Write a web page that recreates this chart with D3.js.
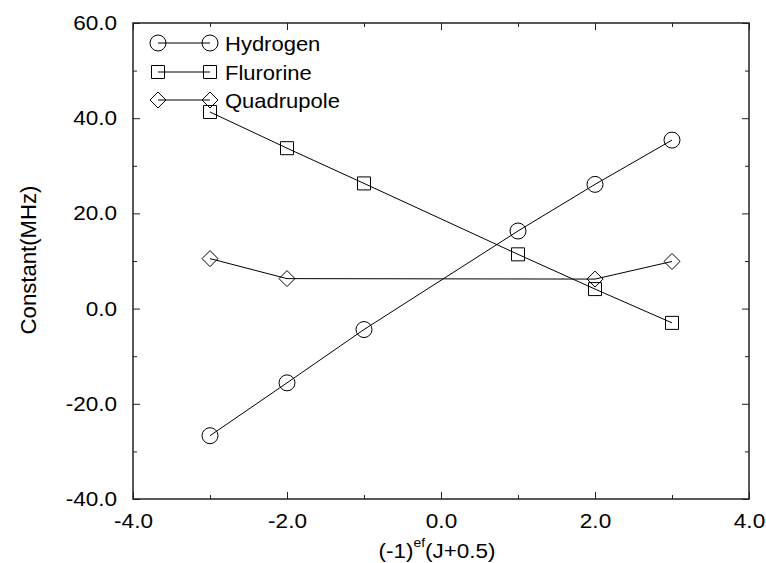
<!DOCTYPE html>
<html><head><meta charset="utf-8">
<script src="https://cdn.jsdelivr.net/npm/d3@7"></script>
<style>body{margin:0;background:#fff}svg{display:block}text{font-family:"Liberation Sans",Arial,sans-serif;fill:#000}</style>
</head><body><svg id="c" width="766" height="563"></svg>
<script>
const xValues = [-3, -2, -1, 1, 2, 3];
const hydrogen = [-26.7, -15.6, -4.4, 16.3, 26.1, 35.4];
const flurorine = [41.3, 33.7, 26.3, 11.4, 4.1, -3.0];
const quadX = [-3, -2, 2, 3];
const quadrupole = [10.5, 6.3, 6.2, 9.9];
const seriesNames = ["Hydrogen", "Flurorine", "Quadrupole"];
const xTicks = [-4, -2, 0, 2, 4];
const yTicks = [-40, -20, 0, 20, 40, 60];

const svg = d3.select("#c");
const L = 133, R = 749, T = 23, B = 499;
const x = d3.scaleLinear().domain([-4, 4]).range([L, R]);
const y = d3.scaleLinear().domain([-40, 60]).range([B, T]);
const SX = 1.1, TF = 20.5;

const g = svg.append("g");
g.append("rect").attr("x", L).attr("y", T).attr("width", R - L).attr("height", B - T)
  .attr("fill", "none").attr("stroke", "#222").attr("stroke-width", 1.5);

const fmt = d => d3.format(".1f")(d).replace("\u2212", "-");
const minorX = d3.range(-3, 4, 2);
const minorY = d3.range(-30, 60, 20);
function clean(sel) { sel.select(".domain").remove(); sel.selectAll("line").attr("stroke", "#222"); return sel; }

const ax = clean(g.append("g").attr("transform", `translate(0,${B})`)
  .call(d3.axisBottom(x).tickValues(xTicks).tickFormat(fmt).tickSize(-7).tickPadding(14)));
ax.selectAll("text").attr("font-size", TF).attr("font-family", null)
  .attr("transform", `scale(${SX},1)`).attr("y", 14);
clean(g.append("g").attr("transform", `translate(0,${B})`)
  .call(d3.axisBottom(x).tickValues(minorX).tickFormat("").tickSize(-4)));
clean(g.append("g").attr("transform", `translate(0,${T})`)
  .call(d3.axisTop(x).tickValues(xTicks).tickFormat("").tickSize(-7)));
clean(g.append("g").attr("transform", `translate(0,${T})`)
  .call(d3.axisTop(x).tickValues(minorX).tickFormat("").tickSize(-4)));
const ay = clean(g.append("g").attr("transform", `translate(${L},0)`)
  .call(d3.axisLeft(y).tickValues(yTicks).tickFormat(fmt).tickSize(-7).tickPadding(16)));
ay.selectAll("text").attr("font-size", TF).attr("font-family", null)
  .attr("transform", `scale(${SX},1)`).attr("x", -16 / SX);
clean(g.append("g").attr("transform", `translate(${L},0)`)
  .call(d3.axisLeft(y).tickValues(minorY).tickFormat("").tickSize(-4)));
clean(g.append("g").attr("transform", `translate(${R},0)`)
  .call(d3.axisRight(y).tickValues(yTicks).tickFormat("").tickSize(-7)));
clean(g.append("g").attr("transform", `translate(${R},0)`)
  .call(d3.axisRight(y).tickValues(minorY).tickFormat("").tickSize(-4)));

// titles
const xt = svg.append("text").attr("transform", `translate(${(L + R) / 2 - 4},558) scale(1.07,1)`)
  .attr("text-anchor", "middle").attr("font-size", 21);
xt.append("tspan").text("(-1)");
xt.append("tspan").text("ef").attr("font-size", 13).attr("dy", -11);
xt.append("tspan").text("(J+0.5)").attr("dy", 11);
svg.append("text").attr("transform", `translate(36,260) rotate(-90) scale(1.03,1)`)
  .attr("text-anchor", "middle").attr("font-size", 21.5).text("Constant(MHz)");

const line = d3.line().x(d => x(d[0])).y(d => y(d[1]));
const hData = xValues.map((v, i) => [v, hydrogen[i]]);
const fData = xValues.map((v, i) => [v, flurorine[i]]);
const qData = quadX.map((v, i) => [v, quadrupole[i]]);

const diamond = { draw(ctx, size) { const r = Math.sqrt(size / 2); ctx.moveTo(0, -r); ctx.lineTo(r, 0); ctx.lineTo(0, r); ctx.lineTo(-r, 0); ctx.closePath(); } };
const sym = [d3.symbolCircle, d3.symbolSquare, diamond];
const symSize = [201, 169, 128];
const datasets = [hData, fData, qData];

datasets.forEach((data, k) => {
  g.append("path").datum(data).attr("d", line).attr("fill", "none").attr("stroke", "#000").attr("stroke-width", 1);
  g.selectAll(null).data(data).enter().append("path")
    .attr("transform", d => `translate(${x(d[0])},${y(d[1])})`)
    .attr("d", d3.symbol().type(sym[k]).size(symSize[k]))
    .attr("fill", "none").attr("stroke", "#000").attr("stroke-width", 1);
});

const legRows = [43, 72, 100];
seriesNames.forEach((name, k) => {
  const lg = svg.append("g").attr("transform", `translate(0,${legRows[k]})`);
  lg.append("line").attr("x1", 158).attr("x2", 210).attr("stroke", "#000");
  [158, 210].forEach(px => lg.append("path").attr("transform", `translate(${px},0)`)
    .attr("d", d3.symbol().type(sym[k]).size(symSize[k])).attr("fill", "none").attr("stroke", "#000"));
  lg.append("text").attr("transform", `translate(225,8) scale(1.1,1)`).attr("font-size", 20).text(name);
});
</script></body></html>
